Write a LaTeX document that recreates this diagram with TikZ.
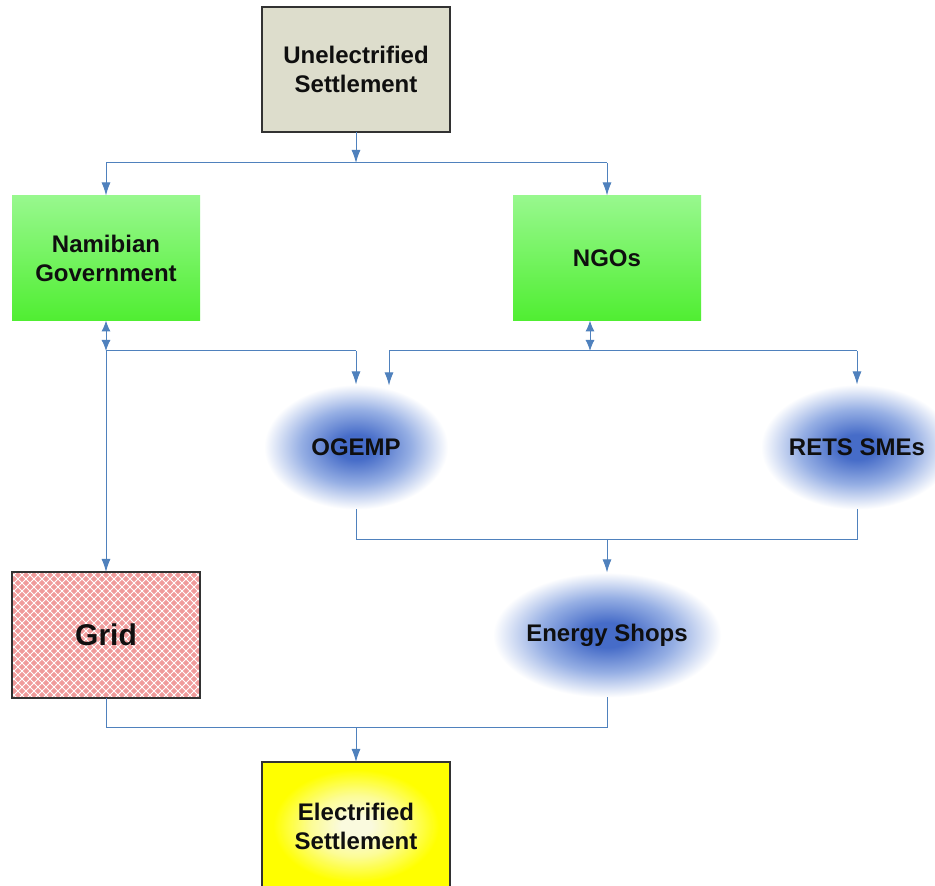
\documentclass[tikz,border=0pt]{standalone}
\usepackage{fontspec}
\setmainfont{Liberation Sans}
\usetikzlibrary{arrows.meta,calc,shapes.geometric}
\definecolor{lnc}{RGB}{79,129,189}
\definecolor{unfill}{RGB}{221,221,204}
\definecolor{bd}{RGB}{50,50,50}
\definecolor{gtop}{RGB}{152,248,142}
\definecolor{gbot}{RGB}{80,238,50}
\definecolor{bcore}{RGB}{70,108,200}
\definecolor{bmid}{RGB}{150,175,228}
\definecolor{ycore}{RGB}{250,250,222}
\definecolor{ymid}{RGB}{252,252,150}
\definecolor{gridpink}{RGB}{240,155,155}
\definecolor{txt}{RGB}{15,15,15}
\pgfdeclareradialshading{blueglow}{\pgfpoint{0bp}{0bp}}{color(0bp)=(bcore); color(5bp)=(bcore); color(15bp)=(bmid); color(25bp)=(white); color(50bp)=(white)}
\pgfdeclareradialshading{yellowglow}{\pgfpoint{0bp}{0bp}}{color(0bp)=(ycore); color(4bp)=(ycore); color(12bp)=(ymid); color(22bp)=(yellow); color(50bp)=(yellow)}
\tikzset{
  lbl/.style={font=\fontsize{24pt}{29pt}\selectfont\bfseries, text=txt, align=center, inner sep=0pt, outer sep=0pt},
  rbox/.style={lbl, rectangle, minimum width=188pt, minimum height=125pt},
  bordered/.style={draw=bd, line width=1.3pt},
  greenbox/.style={rbox, top color=gtop, bottom color=gbot},
  glow/.style={lbl, ellipse, minimum width=184pt, minimum height=125pt, shading=blueglow},
  ln/.style={draw=lnc, line width=1pt},
  arr/.style={ln, -{Latex[length=13pt,width=9pt]}},
  dbl/.style={ln, {Latex[length=11pt,width=9pt]}-{Latex[length=11pt,width=9pt]}}
}
\begin{document}
\begin{tikzpicture}[x=1pt,y=1pt]
\useasboundingbox (0,0) rectangle (935,886);
\clip (0,0) rectangle (935,886);
\fill[white] (0,0) rectangle (935,886);

\node[rbox, bordered, fill=unfill] (un) at (356,816.5) {Unelectrified\\Settlement};
\node[greenbox] (ng) at (106,628) {Namibian\\Government};
\node[greenbox] (ngo) at (607,628) {NGOs};
\node[glow] (ogemp) at (356,439) {OGEMP};
\node[glow] (rets) at (857,439) {RETS SMEs};
\node[glow] (es) at (607,251) {Energy Shops};
\node[rbox, fill=gridpink, minimum height=126pt,
  path picture={
    \foreach \i in {-240,-232,...,240}{
      \draw[white, line width=0.8pt] ($(path picture bounding box.center)+(\i-100,-100)$) -- ++(200,200);
      \draw[white, line width=0.8pt] ($(path picture bounding box.center)+(\i+100,-100)$) -- ++(-200,200);
    }
  }, font=\fontsize{30pt}{36pt}\selectfont\bfseries] (grid) at (106,251) {Grid};
\draw[bd, line width=1.3pt] (grid.south west) rectangle (grid.north east);
\node[rbox, bordered, shading=yellowglow, minimum height=128pt] (el) at (356,60) {Electrified\\Settlement};

% junction levels
\coordinate (jt) at (356,723);
\coordinate (jm) at (356,535);
\coordinate (jb) at (356,346);
\coordinate (jl) at (356,158);

% top split
\draw[arr] (un.south) -- (jt);
\draw[ln] (ng.north |- jt) -- (ngo.north |- jt);
\draw[arr] (ng.north |- jt) -- (ng.north);
\draw[arr] (ngo.north |- jt) -- (ngo.north);

% government branch
\draw[dbl] (ng.south) -- (ng.south |- jm);
\draw[ln] (ng.south |- jm) -- (ogemp.north |- jm);
\draw[arr] (ogemp.north |- jm) -- (ogemp.north);
\draw[arr] (ng.south |- jm) -- (grid.north);

% NGO branch
\coordinate (ngob) at ($(ngo.south)+(-17,0)$);
\coordinate (og2) at ($(ogemp.north)+(33,-1)$);
\draw[dbl] (ngob) -- (ngob |- jm);
\draw[ln] (og2 |- jm) -- (rets.north |- jm);
\draw[arr] (og2 |- jm) -- (og2);
\draw[arr] (rets.north |- jm) -- (rets.north);

% merge to energy shops
\draw[ln] (ogemp.south) -- (ogemp.south |- jb) -- (rets.south |- jb) -- (rets.south);
\draw[arr] (es.north |- jb) -- (es.north);

% merge to electrified
\draw[ln] (grid.south) -- (grid.south |- jl) -- (es.south |- jl) -- (es.south);
\draw[arr] (el.north |- jl) -- (el.north);
\end{tikzpicture}
\end{document}
